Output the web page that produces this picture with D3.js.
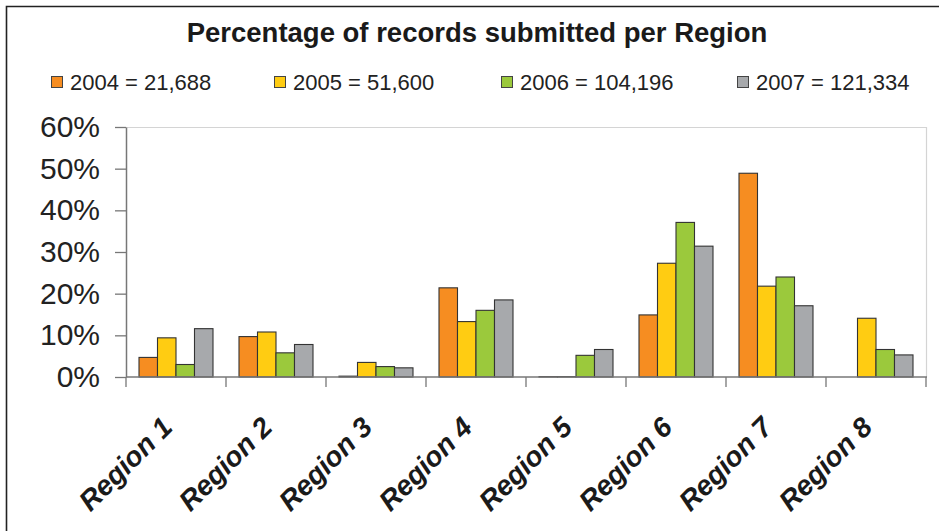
<!DOCTYPE html>
<html>
<head>
<meta charset="utf-8">
<script src="https://cdn.jsdelivr.net/npm/d3@7"></script>
<style>
  html, body { margin: 0; padding: 0; background: #fff; }
  svg { display: block; font-family: "Liberation Sans", Arial, sans-serif; }
</style>
</head>
<body>
<svg id="chart" width="939" height="531"></svg>
<script>
// Regions along the x axis
const regions = ["Region 1", "Region 2", "Region 3", "Region 4", "Region 5", "Region 6", "Region 7", "Region 8"];

// Share of records (%) per region, one array per year
const years = ["2004", "2005", "2006", "2007"];
const legendLabels = ["2004 = 21,688", "2005 = 51,600", "2006 = 104,196", "2007 = 121,334"];
const values2004 = [4.7, 9.7, 0.2, 21.4, 0.1, 14.9, 48.9, 0];
const values2005 = [9.4, 10.8, 3.5, 13.3, 0.1, 27.3, 21.8, 14.1];
const values2006 = [3.0, 5.8, 2.5, 16.0, 5.2, 37.1, 24.0, 6.6];
const values2007 = [11.6, 7.8, 2.2, 18.5, 6.6, 31.4, 17.1, 5.3];
const seriesValues = [values2004, values2005, values2006, values2007];
const colors = ["#F68D21", "#FFCC12", "#9BC93C", "#A7A9AC"];

// Y axis ticks
const yTicks = [0, 10, 20, 30, 40, 50, 60];

const svg = d3.select("#chart");
const W = 939, H = 531;
const plot = { left: 126, right: 926, top: 127, bottom: 377 };

// Frame around the chart (left and top edges)
svg.append("path")
  .attr("d", `M6.5,${H} V6.5 H${W}`)
  .attr("fill", "none").attr("stroke", "#222").attr("stroke-width", 1.6);

// Title
svg.append("text")
  .attr("x", 477).attr("y", 42)
  .attr("text-anchor", "middle")
  .attr("font-size", 27.5).attr("font-weight", "bold").attr("fill", "#1a1a1a")
  .text("Percentage of records submitted per Region");

// Legend
const legendX = [51, 274, 501, 737];
const leg = svg.append("g").selectAll("g").data(years).join("g")
  .attr("transform", (d, i) => `translate(${legendX[i]},0)`);
leg.append("rect")
  .attr("x", 0.5).attr("y", 76.5).attr("width", 11).attr("height", 11)
  .attr("fill", (d, i) => colors[i]).attr("stroke", "#444").attr("stroke-width", 1);
leg.append("text")
  .attr("x", 19).attr("y", 90)
  .attr("font-size", 22).attr("fill", "#222")
  .text((d, i) => legendLabels[i]);

// Scales
const x0 = d3.scaleBand().domain(regions).range([plot.left, plot.right]).padding(0);
const x1 = d3.scaleBand().domain(years).range([13, 87]).padding(0);
const y = d3.scaleLinear().domain([0, 60]).range([plot.bottom, plot.top]);

// Plot area border (light grey top and right)
svg.append("path")
  .attr("d", `M${plot.left},${plot.top + 0.5} H${plot.right + 0.5} V${plot.bottom}`)
  .attr("fill", "none").attr("stroke", "#d4d4d4").attr("stroke-width", 1.2);

// Bars
const groups = svg.append("g").selectAll("g").data(regions).join("g")
  .attr("transform", d => `translate(${x0(d)},0)`);
groups.selectAll("rect")
  .data((r, ri) => years.map((yr, si) => ({ yr, si, v: seriesValues[si][ri] })).filter(d => d.v > 0))
  .join("rect")
  .attr("x", d => x1(d.yr))
  .attr("width", x1.bandwidth())
  .attr("y", d => y(d.v))
  .attr("height", d => y(0) - y(d.v))
  .attr("fill", d => colors[d.si])
  .attr("stroke", "#333").attr("stroke-width", 1.1);

// Y axis
const yAxis = d3.axisLeft(y).tickValues(yTicks).tickSize(11).tickSizeOuter(0).tickFormat(d => d + "%");
const gy = svg.append("g").attr("transform", `translate(${plot.left},0)`).call(yAxis);
gy.select(".domain").attr("stroke", "#777").attr("stroke-width", 1.5);
gy.selectAll(".tick line").attr("stroke", "#777").attr("stroke-width", 1.3);
gy.selectAll(".tick text")
  .attr("x", -26).attr("font-size", 30).attr("fill", "#222")
  .attr("font-family", "Liberation Sans, Arial, sans-serif");

// X axis: baseline with ticks at category boundaries
svg.append("line")
  .attr("x1", plot.left).attr("x2", plot.right + 1)
  .attr("y1", plot.bottom).attr("y2", plot.bottom)
  .attr("stroke", "#777").attr("stroke-width", 1.5);
const boundaries = regions.map(r => x0(r)).concat([plot.right]);
svg.append("g").selectAll("line").data(boundaries).join("line")
  .attr("x1", d => d).attr("x2", d => d)
  .attr("y1", plot.bottom).attr("y2", plot.bottom + 10)
  .attr("stroke", "#777").attr("stroke-width", 1.3);

// Rotated category labels
svg.append("g").selectAll("text").data(regions).join("text")
  .attr("transform", d => `translate(${x0(d) + x0.bandwidth() / 2 - 2},${plot.bottom + 52}) rotate(-45)`)
  .attr("text-anchor", "end")
  .attr("font-size", 28).attr("font-weight", "bold").attr("font-style", "italic")
  .attr("fill", "#1a1a1a")
  .text(d => d);
</script>
</body>
</html>
